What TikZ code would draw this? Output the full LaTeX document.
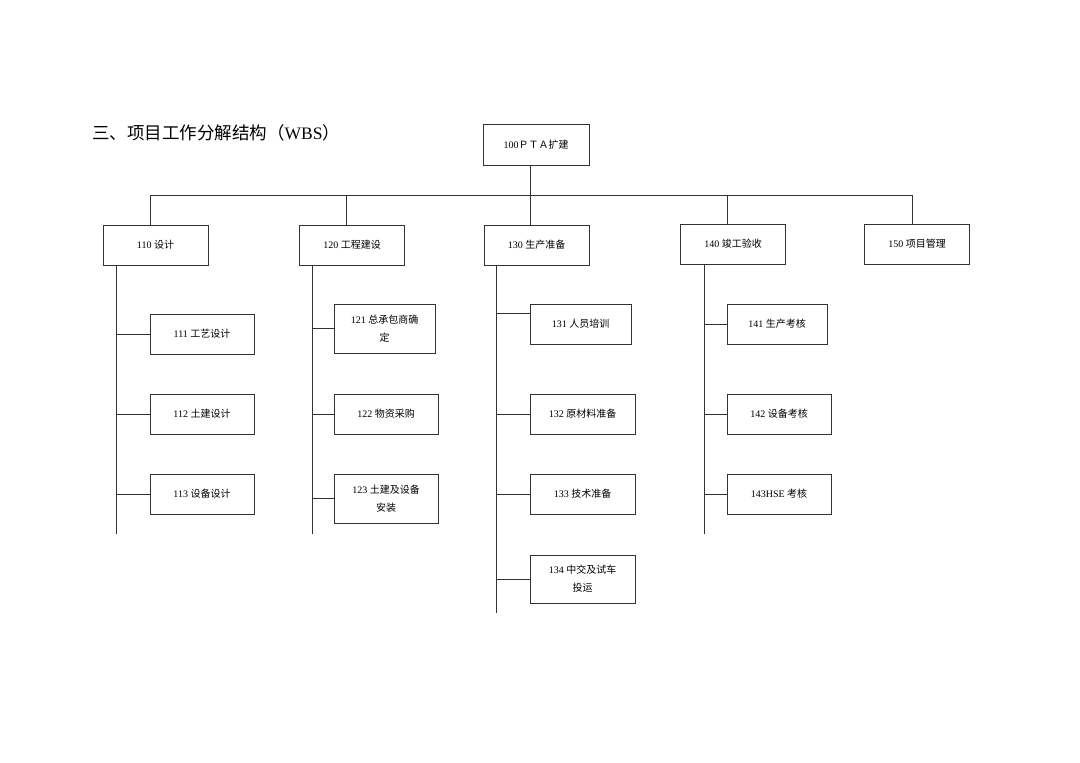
\documentclass[tikz,border=0pt]{standalone}
\usepackage{fontspec}
\setmainfont{Liberation Serif}
\newfontfamily\cjk{Noto Sans CJK SC}
\newcommand\zh[1]{{\cjk #1}}
\usetikzlibrary{calc}
\tikzset{%
    wbs/.style={
        draw=black!80, line width=0.8pt, shape=rectangle,
        minimum width=105pt, minimum height=40pt, inner sep=1pt,
        font=\fontsize{10}{18}\selectfont, align=center
    }
}
\tikzset{tall/.style={minimum height=49pt}}
\tikzset{link/.style={draw=black!80, line width=0.8pt}}

\begin{document}
\begin{tikzpicture}[x=1pt, y=-1pt]
		\fill[white] (0,0) rectangle (1080,763);
		\useasboundingbox (0,0) rectangle (1080,763);

		\node[anchor=west, inner sep=0pt, font=\fontsize{17.5}{20}\selectfont] (title) at (92,133) {\zh{三、项目工作分解结构（}WBS\zh{）}};

		% Top level and phases
		\node[wbs, minimum width=106pt, minimum height=41pt] (top) at (536,144.5) {100\zh{ＰＴＡ扩建}};
		\node[wbs] (b110) at (155.5,245) {110 \zh{设计}};
		\node[wbs] (b120) at (352,245) {120 \zh{工程建设}};
		\node[wbs] (b130) at (536.5,245) {130 \zh{生产准备}};
		\node[wbs] (b140) at (733,244) {140 \zh{竣工验收}};
		\node[wbs] (b150) at (917,244) {150 \zh{项目管理}};

		% Work packages
		\node[wbs, minimum width=104pt] (n111) at (202,334) {111 \zh{工艺设计}};
		\node[wbs, minimum width=104pt] (n112) at (202,414) {112 \zh{土建设计}};
		\node[wbs, minimum width=104pt] (n113) at (202,494) {113 \zh{设备设计}};

		\node[wbs, tall, minimum width=101pt] (n121) at (384.5,328.5) {121 \zh{总承包商确}\\\zh{定}};
		\node[wbs, minimum width=104pt] (n122) at (386,414) {122 \zh{物资采购}};
		\node[wbs, tall, minimum width=104pt] (n123) at (386,498.5) {123 \zh{土建及设备}\\\zh{安装}};

		\node[wbs, minimum width=101pt] (n131) at (580.5,324) {131 \zh{人员培训}};
		\node[wbs] (n132) at (582.5,414) {132 \zh{原材料准备}};
		\node[wbs] (n133) at (582.5,494) {133 \zh{技术准备}};
		\node[wbs, minimum height=48pt] (n134) at (582.5,579) {134 \zh{中交及试车}\\\zh{投运}};

		\node[wbs, minimum width=100pt] (n141) at (777,324) {141 \zh{生产考核}};
		\node[wbs, minimum width=104pt] (n142) at (779,414) {142 \zh{设备考核}};
		\node[wbs, minimum width=104pt] (n143) at (779,494) {143HSE \zh{考核}};

		% Bus and spines
		\coordinate (bus110) at (150,195);	\coordinate (bus120) at (346,195);	\coordinate (bus130) at (530,195);
		\coordinate (bus140) at (727,195);	\coordinate (bus150) at (912,195);
		\coordinate (sp110) at (116,534);	\coordinate (sp120) at (312,534);
		\coordinate (sp130) at (496,613);	\coordinate (sp140) at (704,534);
		\coordinate (c131) at ($(n131.north west)+(0,10)$);

		\draw[link] (bus110) -- (bus150);
		\draw[link] (top.south -| bus130) -- (bus130 |- b130.north);
		\draw[link] (bus110) -- (bus110 |- b110.north);
		\draw[link] (bus120) -- (bus120 |- b120.north);
		\draw[link] (bus140) -- (bus140 |- b140.north);
		\draw[link] (bus150) -- (bus150 |- b150.north);

		\draw[link] (b110.south -| sp110) -- (sp110);
		\draw[link] (b120.south -| sp120) -- (sp120);
		\draw[link] (b130.south -| sp130) -- (sp130);
		\draw[link] (b140.south -| sp140) -- (sp140);

		\draw[link] (n111.west) -- (n111.west -| sp110);
		\draw[link] (n112.west) -- (n112.west -| sp110);
		\draw[link] (n113.west) -- (n113.west -| sp110);

		\draw[link] (n121.west) -- (n121.west -| sp120);
		\draw[link] (n122.west) -- (n122.west -| sp120);
		\draw[link] (n123.west) -- (n123.west -| sp120);

		\draw[link] (c131) -- (c131 -| sp130);
		\draw[link] (n132.west) -- (n132.west -| sp130);
		\draw[link] (n133.west) -- (n133.west -| sp130);
		\draw[link] (n134.west) -- (n134.west -| sp130);

		\draw[link] (n141.west) -- (n141.west -| sp140);
		\draw[link] (n142.west) -- (n142.west -| sp140);
		\draw[link] (n143.west) -- (n143.west -| sp140);

	\end{tikzpicture}
\end{document}
